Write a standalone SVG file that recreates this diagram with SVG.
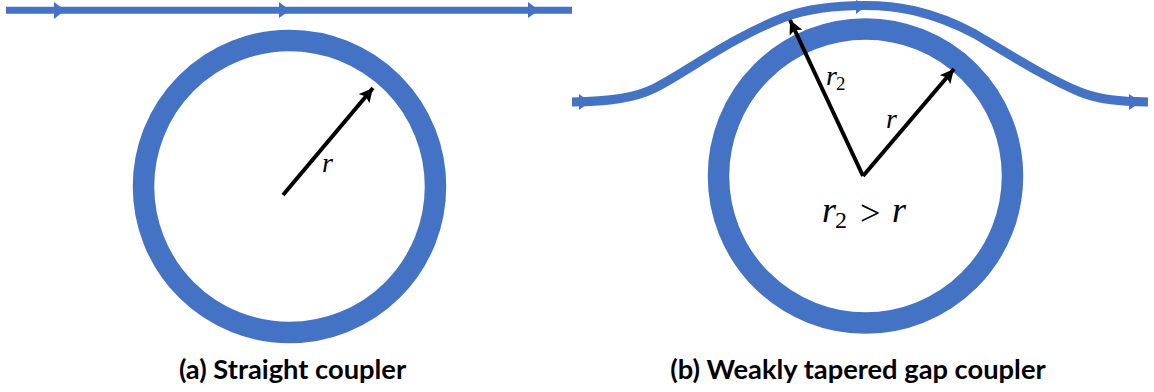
<svg xmlns="http://www.w3.org/2000/svg" width="1154" height="392" viewBox="0 0 1154 392">
<style>
.ring{fill:none;stroke:#4472c4;stroke-width:21.5}
.wg{fill:none;stroke:#4472c4;stroke-width:7}
.wg2{fill:none;stroke:#4472c4;stroke-width:9}
.head{fill:#4472c4}
.rad{stroke:#000;stroke-width:4;fill:none;marker-end:url(#a)}
.cap{font:bold 27.3px Lato,"Liberation Sans",sans-serif;fill:#000;text-anchor:middle}
.m{font-family:"Liberation Serif",serif;font-style:italic;fill:#000}
.n{font-family:"Liberation Serif",serif;fill:#000}
</style>
<defs><marker id="a" markerUnits="userSpaceOnUse" markerWidth="15" markerHeight="14" refX="14" refY="7" orient="auto"><path d="M0 0L14 7L0 14L3 7Z" fill="#000"/></marker></defs>
<rect width="1154" height="392" fill="#fff"/>
<g id="ring-a"><circle class="ring" cx="289.500" cy="186.500" r="146"/></g>
<g id="ring-b"><circle class="ring" cx="865.500" cy="176" r="147"/></g>
<g id="connectors">
<path class="wg" d="M6 10.200H572"/>
<path class="head" d="M54 2L65 10.200L54 19ZM279 2L290 10.200L279 18ZM528 2L539 10.200L528 18Z"/>
<path class="wg2" d="M572 102C610 101.500 635 98 655 88C690 70 730 38 785 17C810 8 835 5.500 865 5.500C895 5.500 930 10 975 34C1010 55 1050 80 1080 92C1100 100 1120 101.500 1148 102"/>
<path class="head" d="M579 94L590 102L579 110ZM856 0L867 5.500L856 14ZM1129 94L1141 102L1129 110Z"/>
<path class="rad" d="M283 195L373 88"/>
<path class="rad" d="M863 176L790 20"/>
<path class="rad" d="M863 176L954 69"/>
</g>
<g id="labels">
<text class="m" x="322" y="172" font-size="28">r</text>
<text class="m" x="826" y="85" font-size="28">r</text><text class="n" x="836" y="90" font-size="19">2</text>
<text class="m" x="886" y="128" font-size="28">r</text>
<text class="m" x="822" y="222" font-size="36">r</text><text class="n" x="835" y="228" font-size="24">2</text>
<text class="n" x="860" y="225" font-size="36">&gt;</text>
<text class="m" x="892" y="222" font-size="36">r</text>
<text class="cap" x="292.500" y="379">(a) Straight coupler</text>
<text class="cap" x="858" y="379">(b) Weakly tapered gap coupler</text>
</g>
</svg>
